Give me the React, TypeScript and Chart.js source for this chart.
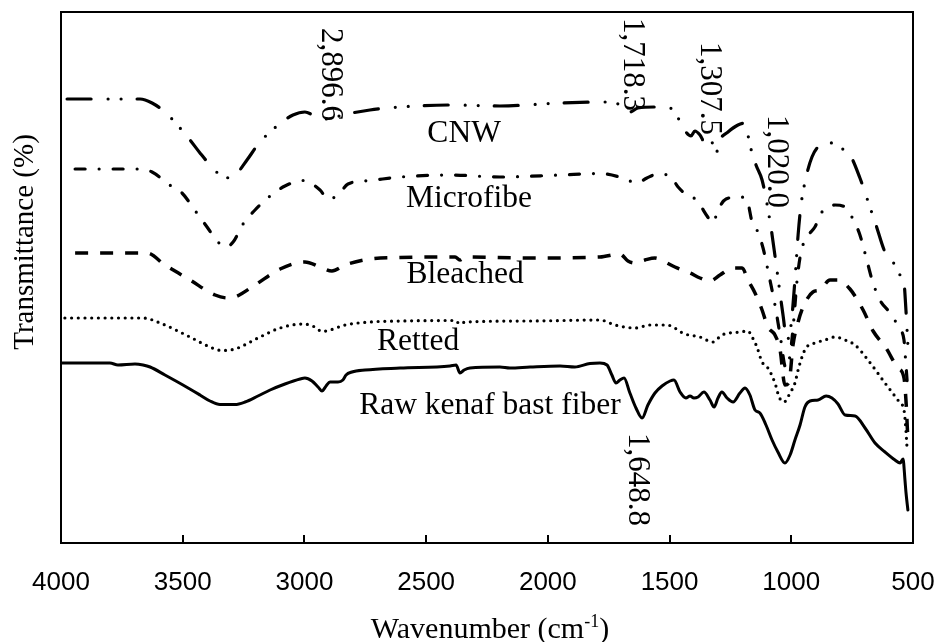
import React, { useEffect, useRef } from "react";
import { Chart, registerables } from "chart.js";
Chart.register(...registerables);

// x axis (wavenumber, cm-1)
const xTicks = [4000, 3500, 3000, 2500, 2000, 1500, 1000, 500];

// Raw kenaf bast fiber (solid)
const rawWn = [4000, 3799, 3766, 3696, 3663, 3634, 3573, 3499, 3429, 3388, 3347, 3285, 3244, 3191, 3141, 3080, 3018, 2998, 2969, 2944, 2928, 2911, 2895, 2862, 2842, 2829, 2805, 2751, 2607, 2402, 2377, 2361, 2344, 2320, 2197, 2156, 2073, 1950, 1889, 1827, 1786, 1757, 1737, 1720, 1704, 1687, 1663, 1638, 1613, 1589, 1560, 1531, 1498, 1482, 1457, 1433, 1416, 1400, 1383, 1359, 1334, 1317, 1301, 1285, 1264, 1239, 1211, 1190, 1170, 1149, 1129, 1104, 1079, 1055, 1026, 1005, 985, 964, 944, 923, 890, 857, 833, 808, 779, 738, 697, 656, 615, 574, 553, 541, 533, 529, 521];
const rawT = [36.0, 36.0, 35.6, 35.8, 35.6, 35.2, 33.6, 31.6, 29.6, 28.4, 27.7, 27.7, 28.2, 29.4, 30.6, 31.8, 32.8, 33.0, 32.4, 31.2, 30.4, 31.4, 32.2, 32.2, 32.6, 33.6, 34.2, 34.6, 35.0, 35.4, 35.6, 34.0, 34.6, 35.0, 35.2, 35.0, 35.2, 35.4, 35.2, 35.9, 36.0, 35.6, 33.6, 32.0, 32.6, 33.0, 30.0, 27.0, 25.0, 27.6, 30.0, 31.4, 32.4, 32.6, 30.2, 29.0, 29.4, 29.0, 29.2, 30.2, 28.6, 27.2, 29.0, 30.2, 29.0, 28.2, 30.0, 31.0, 29.6, 26.6, 26.0, 23.6, 20.6, 18.2, 16.0, 17.6, 20.6, 23.6, 27.2, 28.4, 28.6, 29.4, 29.0, 27.8, 25.6, 25.4, 23.0, 20.0, 18.2, 16.6, 16.0, 16.8, 12.6, 10.2, 6.6];

// Retted (dotted)
const retWn = [3984, 3663, 3593, 3470, 3388, 3339, 3285, 3183, 3100, 3006, 2957, 2928, 2895, 2833, 2731, 2607, 2381, 2361, 2340, 2073, 1786, 1724, 1642, 1580, 1511, 1437, 1375, 1322, 1285, 1211, 1178, 1161, 1141, 1120, 1096, 1067, 1050, 1030, 1005, 985, 972, 956, 940, 903, 862, 820, 779, 738, 685, 615, 553, 537, 529, 525];
const retT = [45.0, 45.0, 44.0, 41.2, 39.2, 38.5, 38.8, 41.2, 43.0, 43.8, 43.2, 42.3, 42.6, 43.6, 44.2, 44.4, 44.5, 43.8, 44.2, 44.4, 44.6, 43.6, 43.0, 43.6, 43.6, 41.8, 41.2, 40.2, 41.6, 42.2, 42.4, 41.2, 39.2, 36.2, 35.0, 32.0, 29.2, 28.2, 30.0, 32.0, 34.6, 37.2, 39.0, 40.0, 40.6, 41.2, 40.6, 39.6, 36.6, 32.0, 28.0, 26.6, 22.6, 19.4];

// Bleached (dashed)
const bleWn = [3942, 3647, 3573, 3470, 3367, 3314, 3285, 3203, 3100, 2998, 2936, 2887, 2833, 2731, 2607, 2381, 2361, 2340, 2073, 1786, 1704, 1671, 1642, 1601, 1560, 1519, 1478, 1416, 1375, 1334, 1293, 1239, 1202, 1178, 1149, 1120, 1096, 1067, 1046, 1026, 1009, 993, 972, 948, 911, 882, 841, 808, 759, 705, 664, 611, 562, 537, 529, 521];
const bleT = [58.0, 58.0, 55.6, 52.6, 49.6, 49.0, 49.2, 51.6, 54.8, 56.2, 55.2, 54.4, 55.6, 56.8, 57.1, 57.2, 56.6, 57.2, 57.0, 57.2, 57.8, 56.4, 56.0, 56.6, 57.0, 56.2, 55.2, 54.0, 53.0, 52.4, 53.6, 55.0, 55.0, 52.6, 50.0, 46.6, 43.2, 41.6, 38.6, 31.6, 32.2, 39.6, 44.2, 47.6, 50.2, 50.6, 52.6, 52.6, 50.8, 46.6, 42.4, 39.0, 35.0, 33.0, 28.6, 20.6];

// Microfibe (dash-dot)
const micWn = [3942, 3675, 3626, 3560, 3503, 3445, 3400, 3355, 3322, 3293, 3252, 3203, 3141, 3080, 3006, 2936, 2903, 2862, 2821, 2731, 2607, 2402, 2197, 1950, 1786, 1691, 1634, 1593, 1548, 1498, 1465, 1424, 1400, 1375, 1346, 1322, 1301, 1268, 1211, 1182, 1161, 1141, 1116, 1092, 1067, 1046, 1022, 1005, 989, 977, 960, 935, 903, 874, 820, 779, 751, 718, 693, 668, 636, 594, 553, 537, 529, 521];
const micT = [74.8, 74.8, 74.2, 71.8, 70.0, 66.2, 63.2, 60.2, 59.2, 60.2, 63.8, 66.6, 69.4, 71.4, 72.5, 70.6, 68.8, 69.6, 71.8, 72.5, 73.2, 73.6, 73.2, 73.6, 73.9, 73.0, 72.0, 73.0, 73.8, 73.4, 71.2, 69.4, 69.0, 67.6, 65.4, 64.0, 66.6, 68.8, 69.2, 68.6, 64.2, 62.6, 59.0, 53.6, 47.6, 41.6, 35.0, 37.6, 45.0, 52.2, 58.2, 61.2, 63.2, 66.2, 67.6, 67.2, 65.2, 61.6, 57.2, 52.6, 48.6, 46.0, 42.6, 40.6, 35.6, 30.2];

// CNW (dash-dot-dot)
const cnwWn = [3975, 3675, 3626, 3573, 3511, 3470, 3429, 3376, 3326, 3277, 3236, 3183, 3141, 3092, 3047, 2998, 2957, 2915, 2874, 2825, 2731, 2607, 2402, 2197, 1950, 1745, 1695, 1663, 1630, 1552, 1498, 1465, 1433, 1412, 1396, 1375, 1354, 1334, 1309, 1293, 1260, 1219, 1190, 1170, 1145, 1120, 1087, 1059, 1034, 1018, 1001, 985, 972, 960, 940, 915, 882, 849, 808, 759, 718, 677, 652, 615, 582, 557, 537, 529, 521];
const cnwT = [88.8, 88.8, 88.0, 86.2, 83.0, 80.6, 78.0, 75.0, 73.0, 74.0, 76.6, 80.2, 82.2, 84.2, 85.6, 86.2, 85.4, 84.8, 85.2, 85.8, 86.6, 87.2, 87.6, 87.4, 88.0, 88.2, 87.4, 86.2, 87.0, 87.2, 87.0, 85.0, 82.2, 81.4, 82.4, 81.6, 80.0, 81.0, 78.0, 80.6, 82.2, 83.6, 84.0, 79.6, 75.6, 72.6, 64.2, 54.6, 45.6, 40.6, 43.6, 52.6, 61.6, 67.6, 73.0, 77.2, 79.6, 80.2, 79.2, 77.6, 73.0, 67.2, 63.6, 58.2, 56.2, 53.8, 52.0, 46.6, 39.6];

// Curve names
const seriesNames = ["Raw kenaf bast fiber", "Retted", "Bleached", "Microfibe", "CNW"];
const nameWn = [2238, 2533, 2340, 2324, 2344];
const nameT = [25.8, 38.6, 52.0, 67.2, 80.2];

// Peak annotations (rotated)
const peakLabels = ["2,896.6", "1,718.3", "1,307.5", "1,020.0", "1,648.8"];
const peakWn = [2895, 1654, 1338, 1063, 1634];
const peakTop = [103.0, 105.0, 100.2, 85.6, 22.0];

const SERIF = '"Liberation Serif", "Times New Roman", serif';
const SANS = '"Liberation Sans", Arial, sans-serif';

const pts = (w: number[], t: number[]) => w.map((x, i) => ({ x, y: t[i] }));

const decorPlugin = {
  id: "decor",
  afterDatasetsDraw(chart: any) {
    const { ctx, chartArea, scales } = chart;
    const xs = scales.x;
    const ys = scales.y;
    ctx.save();
    ctx.fillStyle = "#000";
    // curve names
    ctx.font = `31.5px ${SERIF}`;
    ctx.textAlign = "center";
    ctx.textBaseline = "alphabetic";
    seriesNames.forEach((s, i) => {
      ctx.fillText(s, xs.getPixelForValue(nameWn[i]), ys.getPixelForValue(nameT[i]));
    });
    // peak labels rotated
    ctx.font = `31px ${SERIF}`;
    peakLabels.forEach((s, i) => {
      ctx.save();
      ctx.translate(xs.getPixelForValue(peakWn[i]), ys.getPixelForValue(peakTop[i]));
      ctx.rotate(Math.PI / 2);
      ctx.textAlign = "left";
      ctx.textBaseline = "middle";
      ctx.fillText(s, 0, 0);
      ctx.restore();
    });
    // frame
    ctx.strokeStyle = "#000";
    ctx.lineWidth = 2;
    ctx.strokeRect(chartArea.left, chartArea.top, chartArea.right - chartArea.left, chartArea.bottom - chartArea.top);
    // inward ticks
    ctx.beginPath();
    xTicks.forEach((v) => {
      const px = Math.round(xs.getPixelForValue(v));
      ctx.moveTo(px, chartArea.bottom);
      ctx.lineTo(px, chartArea.bottom - 8);
    });
    ctx.stroke();
    // y title
    ctx.save();
    ctx.font = `29px ${SERIF}`;
    ctx.translate(33, 242);
    ctx.rotate(-Math.PI / 2);
    ctx.textAlign = "center";
    ctx.textBaseline = "alphabetic";
    ctx.fillText("Transmittance (%)", 0, 0);
    ctx.restore();
    // x title with superscript
    const big = `30px ${SERIF}`;
    const small = `18px ${SERIF}`;
    ctx.textAlign = "left";
    ctx.textBaseline = "alphabetic";
    ctx.font = big;
    const a = "Wavenumber (cm";
    const c = ")";
    const wa = ctx.measureText(a).width;
    const wc = ctx.measureText(c).width;
    ctx.font = small;
    const b = "-1";
    const wb = ctx.measureText(b).width;
    const total = wa + wb + wc;
    const cx = (chartArea.left + chartArea.right) / 2 + 3;
    const base = 638;
    const x0 = cx - total / 2;
    ctx.font = big;
    ctx.fillText(a, x0, base);
    ctx.font = small;
    ctx.fillText(b, x0 + wa, base - 11);
    ctx.font = big;
    ctx.fillText(c, x0 + wa + wb, base);
    ctx.restore();
  },
};

export default function App() {
  const ref = useRef<HTMLCanvasElement>(null);
  useEffect(() => {
    if (!ref.current) return;
    const common = {
      pointRadius: 0,
      borderColor: "#000",
      backgroundColor: "#000",
      fill: false,
      cubicInterpolationMode: "monotone" as const,
      borderJoinStyle: "round" as const,
    };
    const chart = new Chart(ref.current, {
      type: "line",
      data: {
        datasets: [
          { ...common, label: seriesNames[0], data: pts(rawWn, rawT), borderWidth: 3, borderCapStyle: "round" },
          { ...common, label: seriesNames[1], data: pts(retWn, retT), borderWidth: 3.2, borderCapStyle: "round", borderDash: [0, 6.7] },
          { ...common, label: seriesNames[2], data: pts(bleWn, bleT), borderWidth: 3.5, borderCapStyle: "butt", borderDash: [13, 12] },
          { ...common, label: seriesNames[3], data: pts(micWn, micT), borderWidth: 3.2, borderCapStyle: "round", borderDash: [10, 14, 0, 14] },
          { ...common, label: seriesNames[4], data: pts(cnwWn, cnwT), borderWidth: 3.2, borderCapStyle: "round", borderDash: [24, 17, 0, 13, 0, 16] },
        ],
      },
      options: {
        animation: false,
        responsive: true,
        maintainAspectRatio: false,
        layout: { padding: { left: 61, right: 25, top: 12, bottom: 0 } },
        plugins: { legend: { display: false }, tooltip: { enabled: false } },
        scales: {
          x: {
            type: "linear",
            reverse: true,
            min: 500,
            max: 4000,
            afterBuildTicks: (axis: any) => {
              axis.ticks = xTicks.map((v) => ({ value: v }));
            },
            afterFit: (axis: any) => {
              axis.height = 99;
              axis.paddingLeft = 0;
              axis.paddingRight = 0;
            },
            grid: { display: false, drawTicks: false },
            border: { display: false },
            ticks: {
              color: "#000",
              font: { family: SANS, size: 26 },
              padding: 24,
              maxRotation: 0,
              autoSkip: false,
              callback: (v: any) => String(v),
            },
          },
          y: {
            display: false,
            min: 0,
            max: 106.2,
          },
        },
      },
      plugins: [decorPlugin],
    } as any);
    return () => chart.destroy();
  }, []);
  return (
    <div style={{ position: "absolute", left: 0, top: 0, width: 938, height: 642, background: "#fff" }}>
      <canvas ref={ref} />
    </div>
  );
}
